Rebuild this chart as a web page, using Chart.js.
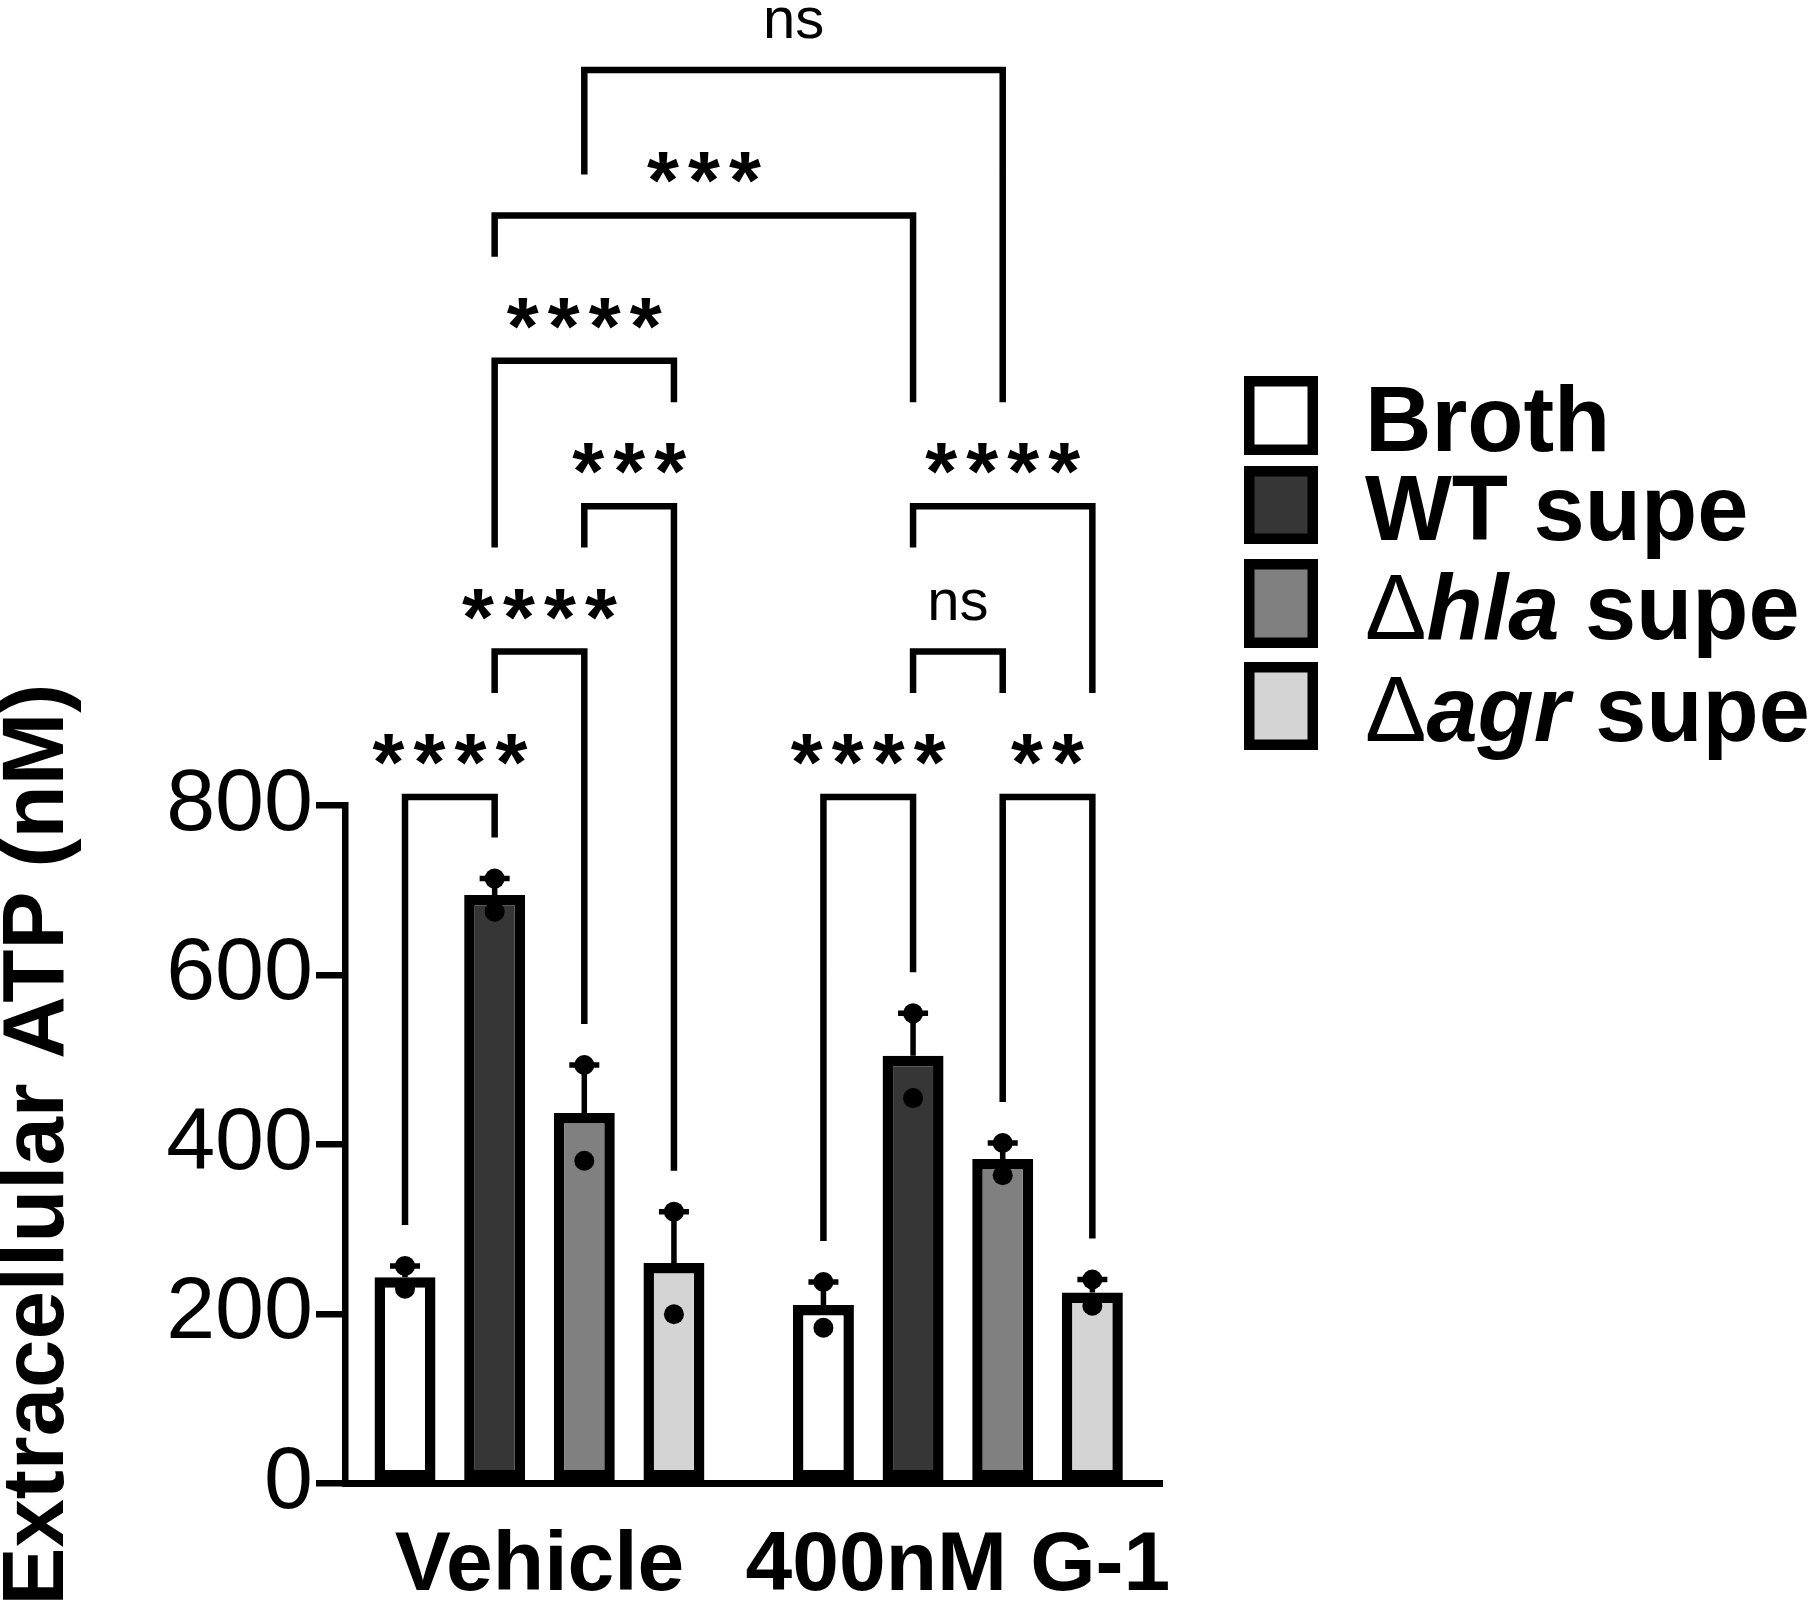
<!DOCTYPE html>
<html><head><meta charset="utf-8">
<script src="https://cdn.jsdelivr.net/npm/chart.js@4/dist/chart.umd.min.js"></script>
<style>html,body{margin:0;padding:0;background:#fff;}canvas{display:block;}</style>
</head><body>
<canvas id="c" width="1818" height="1605"></canvas>
<script>
// ---------- data ----------
const groups = ['Vehicle', '400nM G-1'];
const seriesNames = ['Broth', 'WT supe', 'Δhla supe', 'Δagr supe'];
const seriesColors = ['#ffffff', '#363636', '#808080', '#d4d4d4'];
const yTicks = [0, 200, 400, 600, 800];
// bar means [Vehicle, 400nM G-1]
const brothMean = [243.5, 211];
const wtMean = [694.5, 505];
const hlaMean = [437.5, 383];
const agrMean = [260.5, 225.5];
// error (SEM)
const brothSem = [13.5, 27];
const wtSem = [19.5, 50];
const hlaSem = [56.5, 19];
const agrSem = [60.5, 15.5];
// individual replicates
const brothPts = [[257, 230], [238, 184]];
const wtPts = [[714, 675], [555, 455]];
const hlaPts = [[494, 381], [402, 364]];
const agrPts = [[321, 200], [241, 210]];
// comparisons: [seriesA, groupA, seriesB, groupB, level, label]
const comparisons = [
  [0, 0, 1, 0, 1, '****'],
  [0, 1, 1, 1, 1, '****'],
  [2, 1, 3, 1, 1, '**'],
  [1, 0, 2, 0, 2, '****'],
  [1, 1, 2, 1, 2, 'ns'],
  [2, 0, 3, 0, 3, '***'],
  [1, 1, 3, 1, 3, '****'],
  [1, 0, 3, 0, 4, '****'],
  [1, 0, 1, 1, 5, '***'],
  [2, 0, 2, 1, 6, 'ns']
];

const means = [brothMean, wtMean, hlaMean, agrMean];
const sems = [brothSem, wtSem, hlaSem, agrSem];
const points = [brothPts, wtPts, hlaPts, agrPts];
const FONT = '"Liberation Sans", Arial, Helvetica, sans-serif';

const datasets = seriesNames.map((name, s) => ({
  label: name,
  data: groups.map((g, gi) => ({ x: gi, y: means[s][gi] })),
  backgroundColor: seriesColors[s],
  borderColor: '#000',
  borderWidth: 10.5,
  borderSkipped: false,
  categoryPercentage: 0.857,
  barPercentage: 0.68,
  sem: sems[s],
  pts: points[s]
}));

// ---------- plugins ----------
const errPlugin = {
  id: 'errs',
  afterDatasetsDraw(chart) {
    const ctx = chart.ctx, y = chart.scales.y;
    ctx.save();
    chart.data.datasets.forEach((ds, s) => {
      chart.getDatasetMeta(s).data.forEach((bar, gi) => {
        const top = y.getPixelForValue(ds.data[gi].y + ds.sem[gi]);
        ctx.strokeStyle = '#000';
        ctx.lineWidth = 5.5;
        ctx.lineCap = 'butt';
        ctx.beginPath();
        ctx.moveTo(bar.x, bar.y);
        ctx.lineTo(bar.x, top);
        ctx.moveTo(bar.x - 15, top);
        ctx.lineTo(bar.x + 15, top);
        ctx.stroke();
        ctx.fillStyle = '#000';
        ds.pts[gi].forEach(v => {
          ctx.beginPath();
          ctx.arc(bar.x, y.getPixelForValue(v), 10, 0, Math.PI * 2);
          ctx.fill();
        });
      });
    });
    ctx.restore();
  }
};

const bracketPlugin = {
  id: 'brackets',
  afterDatasetsDraw(chart, args, o) {
    const ctx = chart.ctx, y = chart.scales.y;
    const topPx = y.getPixelForValue(y.max);
    const lineY = L => topPx - o.firstGap - (L - 1) * o.levelStep;
    const barX = (s, g) => chart.getDatasetMeta(s).data[g].x;
    const errTop = (s, g) => {
      const ds = chart.data.datasets[s];
      return y.getPixelForValue(ds.data[g].y + ds.sem[g]);
    };
    ctx.save();
    ctx.font = `bold ${o.starSize}px ${FONT}`;
    const sm = ctx.measureText('*');
    const items = comparisons.map(c => {
      const xa = barX(c[0], c[1]), xb = barX(c[2], c[3]);
      const ly = lineY(c[4]);
      const cx = (xa + xb) / 2;
      const it = { c, xa, xb, ly, cx, level: c[4], label: c[5] };
      if (c[5] === 'ns') {
        ctx.font = `${o.nsSize}px ${FONT}`;
        const m = ctx.measureText('ns');
        it.base = ly - o.textGap;
        it.inkTop = it.base - m.actualBoundingBoxAscent;
        it.inkL = cx - m.width / 2;
        it.inkR = cx + m.width / 2;
      } else {
        const n = c[5].length;
        it.base = ly - o.textGap - sm.actualBoundingBoxDescent;
        it.inkTop = it.base - sm.actualBoundingBoxAscent;
        const w = (n - 1) * o.starPitch + (sm.actualBoundingBoxLeft + sm.actualBoundingBoxRight);
        it.inkL = cx - w / 2;
        it.inkR = cx + w / 2;
      }
      return it;
    });
    const legBottom = (it, s, g, x) => {
      let obst = errTop(s, g);
      items.forEach(ot => {
        if (ot.level >= it.level) return;
        const lo = Math.min(ot.xa, ot.xb) - 1, hi = Math.max(ot.xa, ot.xb) + 1;
        if (x < lo || x > hi) return;
        const v = (x >= ot.inkL - o.labelMargin && x <= ot.inkR + o.labelMargin) ? ot.inkTop : ot.ly;
        obst = Math.min(obst, v);
      });
      return obst - o.legGap;
    };
    items.forEach(it => {
      const [sa, ga, sb, gb] = it.c;
      const ba = legBottom(it, sa, ga, it.xa);
      const bb = legBottom(it, sb, gb, it.xb);
      ctx.strokeStyle = '#000';
      ctx.lineWidth = o.lineWidth;
      ctx.lineJoin = 'miter';
      ctx.lineCap = 'butt';
      ctx.beginPath();
      ctx.moveTo(it.xa, ba);
      ctx.lineTo(it.xa, it.ly);
      ctx.lineTo(it.xb, it.ly);
      ctx.lineTo(it.xb, bb);
      ctx.stroke();
      ctx.fillStyle = '#000';
      ctx.textAlign = 'center';
      ctx.textBaseline = 'alphabetic';
      if (it.label === 'ns') {
        ctx.font = `${o.nsSize}px ${FONT}`;
        ctx.fillText('ns', it.cx, it.base);
      } else {
        ctx.font = `bold ${o.starSize}px ${FONT}`;
        const n = it.label.length;
        for (let i = 0; i < n; i++) {
          ctx.fillText('*', it.cx + (i - (n - 1) / 2) * o.starPitch, it.base);
        }
      }
    });
    ctx.restore();
  }
};

const legendPlugin = {
  id: 'sideLegend',
  afterDraw(chart, args, o) {
    const ctx = chart.ctx;
    ctx.save();
    chart.data.datasets.forEach((ds, i) => {
      const top = o.rowTops[i], h = o.rowHeights[i], bw = o.boxBorder;
      ctx.fillStyle = ds.backgroundColor;
      ctx.fillRect(o.boxX, top, o.boxW, h);
      ctx.lineWidth = bw;
      ctx.strokeStyle = '#000';
      ctx.strokeRect(o.boxX + bw / 2, top + bw / 2, o.boxW - bw, h - bw);
      const base = top + h / 2 + o.baselineShift;
      const lab = ds.label;
      let parts;
      if (lab.startsWith('Δ')) {
        const words = lab.slice(1).split(' ');
        parts = [['Δ', 'normal', 'normal'], [words[0], 'bold', 'italic'], [' ' + words.slice(1).join(' '), 'bold', 'normal']];
      } else {
        parts = [[lab, 'bold', 'normal']];
      }
      let x = o.textX;
      ctx.fillStyle = '#000';
      ctx.textAlign = 'left';
      ctx.textBaseline = 'alphabetic';
      parts.forEach(([t, w, st]) => {
        ctx.font = `${st} ${w} ${o.size}px ${FONT}`;
        ctx.fillText(t, x, base);
        x += ctx.measureText(t).width;
      });
    });
    ctx.restore();
  }
};

// ---------- chart ----------
Chart.defaults.font.family = FONT;
Chart.defaults.color = '#000';
new Chart(document.getElementById('c'), {
  type: 'bar',
  data: { datasets },
  plugins: [errPlugin, bracketPlugin, legendPlugin],
  options: {
    responsive: false,
    animation: false,
    devicePixelRatio: 1,
    layout: { padding: { top: 805.7, right: 655.3, bottom: 0, left: 0 } },
    plugins: {
      legend: { display: false },
      tooltip: { enabled: false },
      brackets: { firstGap: 8.7, levelStep: 145.4, lineWidth: 6.5, textGap: 32, legGap: 41, labelMargin: 25, starSize: 82, starPitch: 41, nsSize: 58 },
      sideLegend: { rowTops: [376, 466, 559, 662], rowHeights: [79, 78, 89, 88], boxX: 1244, boxW: 74, boxBorder: 10.5, textX: 1365, size: 92, baselineShift: 35 }
    },
    scales: {
      x: {
        type: 'linear',
        min: -0.4648,
        max: 1.4895,
        offset: false,
        afterBuildTicks: s => { s.ticks = groups.map((g, i) => ({ value: i })); },
        afterFit: s => { s.height = 121.3; },
        ticks: {
          autoSkip: false, maxRotation: 0, minRotation: 0, padding: 33,
          color: '#000',
          font: { size: 84, weight: 'bold' },
          callback: v => groups[v]
        },
        grid: { display: false, drawTicks: false },
        border: { display: true, color: '#000', width: 7 }
      },
      y: {
        min: 0,
        max: 800,
        afterBuildTicks: s => { s.ticks = yTicks.map(v => ({ value: v })); },
        afterFit: s => { s.width = 345; },
        ticks: { color: '#000', padding: 3, font: { size: 88 } },
        grid: { drawOnChartArea: false, drawTicks: true, tickLength: 29, tickWidth: 6.5, tickColor: '#000', lineWidth: 6.5, color: '#000' },
        border: { display: true, color: '#000', width: 6.5 },
        title: { display: true, text: 'Extracellular ATP (nM)', color: '#000', padding: 0, font: { size: 87, weight: 'bold', lineHeight: 0.9 } }
      }
    }
  }
});
</script>
</body></html>
